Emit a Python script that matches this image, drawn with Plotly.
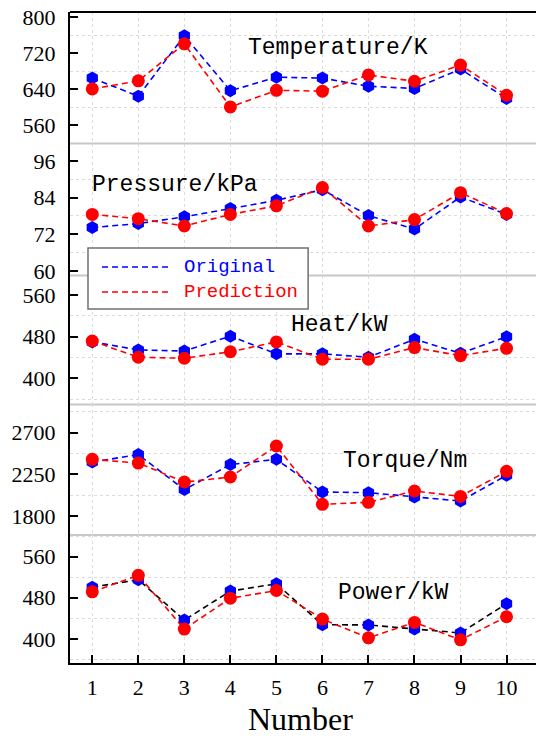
import plotly.graph_objects as go

numbers = list(range(1, 11))

temp_orig = [665, 625, 759, 637, 667, 665, 647, 642, 685, 620]
temp_pred = [641, 659, 741, 601, 638, 636, 672, 658, 694, 627]

pres_orig = [74.2, 75.5, 77.7, 80.4, 83.1, 86.6, 78.1, 73.7, 84.2, 78.5]
pres_pred = [78.5, 77.1, 74.7, 78.5, 81.3, 87.3, 74.7, 76.8, 85.6, 78.8]

heat_orig = [470, 454.5, 452.5, 481, 447, 447, 440.5, 475, 448, 480]
heat_pred = [471.7, 440.5, 438.5, 451, 470, 436.6, 436.6, 459, 443.5, 457.7]

torq_orig = [2383, 2463, 2085, 2355, 2412, 2059, 2052, 2005, 1962, 2239]
torq_pred = [2412, 2372, 2167, 2221, 2556, 1926, 1948, 2070, 2012, 2282]

powr_orig = [500.6, 515, 436.5, 493, 507, 427.5, 427, 419, 411.5, 468.5]
powr_pred = [491.5, 523.5, 419, 479, 494, 438.5, 402, 432, 398, 443]

panel_titles = ["Temperature/K", "Pressure/kPa", "Heat/kW", "Torque/Nm", "Power/kW"]
legend_names = ["Original", "Prediction"]

panels = [
    dict(orig=temp_orig, pred=temp_pred, rng=[520, 811.6], tick0=560, dtick=80, mtick0=520,
         dom=[0.798, 1.0], tpos=(0.575, 0.728), orig_line="#0000ff"),
    dict(orig=pres_orig, pred=pres_pred, rng=[58.5, 101.7], tick0=60, dtick=12, mtick0=66,
         dom=[0.5952, 0.798], tpos=(0.225, 0.686), orig_line="#0000ff"),
    dict(orig=heat_orig, pred=heat_pred, rng=[349.7, 597.5], tick0=400, dtick=80, mtick0=360,
         dom=[0.3971, 0.5952], tpos=(0.579, 0.616), orig_line="#0000ff"),
    dict(orig=torq_orig, pred=torq_pred, rng=[1595, 3004], tick0=1800, dtick=450, mtick0=2025,
         dom=[0.1966, 0.3971], tpos=(0.719, 0.567), orig_line="#0000ff"),
    dict(orig=powr_orig, pred=powr_pred, rng=[353, 602], tick0=400, dtick=80, mtick0=360,
         dom=[0.0, 0.1966], tpos=(0.695, 0.547), orig_line="#000000"),
]

BLUE = "#0000ff"
RED = "#ff0000"
GRID = "#dcdcdc"
SERIF = "Liberation Serif"
MONO = "Liberation Mono"
DASH = "6px,4px"

fig = go.Figure()
layout = dict(
    width=536, height=740,
    margin=dict(l=70, r=0, t=12, b=77, autoexpand=False),
    paper_bgcolor="white", plot_bgcolor="white",
    showlegend=False,
    hovermode=False,
)
annotations = []
shapes = []

for i, p in enumerate(panels):
    k = "" if i == 0 else str(i + 1)
    xa = "x" + k
    ya = "y" + k
    fig.add_trace(go.Scatter(
        x=numbers, y=p["orig"], xaxis=xa, yaxis=ya, mode="lines+markers",
        line=dict(color=p["orig_line"], width=1.6, dash=DASH),
        marker=dict(symbol="hexagon", size=13, color=BLUE),
        name=legend_names[0]))
    fig.add_trace(go.Scatter(
        x=numbers, y=p["pred"], xaxis=xa, yaxis=ya, mode="lines+markers",
        line=dict(color=RED, width=1.6, dash=DASH),
        marker=dict(symbol="circle", size=13, color=RED),
        name=legend_names[1]))
    last = (i == 4)
    xdict = dict(
        domain=[0, 1], anchor=ya, range=[0.516, 10.64], automargin=False,
        tick0=1, dtick=1, tickmode="linear",
        showgrid=True, gridcolor=GRID, griddash="dot", gridwidth=1,
        zeroline=False,
        showticklabels=last,
        ticks="inside" if last else "", ticklen=8, tickwidth=2, tickcolor="black",
        showline=last, linecolor="black", linewidth=2,
        tickfont=dict(family=SERIF, size=22, color="black"),
        ticklabeloverflow="allow",
    )
    if i > 0:
        xdict["matches"] = "x"
    if last:
        xdict["ticklabelstandoff"] = 4
    layout["xaxis" + k] = xdict
    layout["yaxis" + k] = dict(
        domain=p["dom"], anchor=xa, range=p["rng"], automargin=False,
        tickmode="linear", tick0=p["tick0"], dtick=p["dtick"],
        showgrid=False, zeroline=False,
        minor=dict(tick0=p["mtick0"], dtick=p["dtick"], showgrid=True,
                   gridcolor=GRID, griddash="dot", gridwidth=1),
        ticks="inside", ticklen=8, tickwidth=2, tickcolor="black",
        showline=True, linecolor="black", linewidth=2,
        tickfont=dict(family=SERIF, size=22, color="black"),
        ticklabelstandoff=8,
        ticklabeloverflow="allow",
    )
    annotations.append(dict(
        text=panel_titles[i], xref=xa + " domain", yref=ya + " domain",
        x=p["tpos"][0], y=p["tpos"][1], showarrow=False,
        xanchor="center", yanchor="middle",
        font=dict(family=MONO, size=23, color="black")))
    if i > 0:
        shapes.append(dict(type="line", xref="paper", yref="paper",
                           x0=0, x1=1, y0=p["dom"][1], y1=p["dom"][1],
                           line=dict(color="#c8c8c8", width=2), layer="between"))

# x-axis title
annotations.append(dict(text="Number", xref="paper", yref="paper", x=0.495, y=-0.1165,
                        xanchor="center", yanchor="bottom", showarrow=False,
                        font=dict(family=SERIF, size=32, color="black")))

# top border
shapes.append(dict(type="line", xref="paper", yref="paper", x0=0, x1=1, y0=1, y1=1,
                   line=dict(color="black", width=2), layer="above"))

# legend box
shapes.append(dict(type="rect", xref="paper", yref="paper",
                   x0=0.0386, x1=0.511, y0=0.5438, y1=0.6375,
                   fillcolor="white", line=dict(color="#707070", width=1.5), layer="above"))
leg_colors = [BLUE, RED]
leg_y = [0.6083, 0.5699]
for name, col, yy in zip(legend_names, leg_colors, leg_y):
    shapes.append(dict(type="line", xref="paper", yref="paper",
                       x0=0.0687, x1=0.2189, y0=yy, y1=yy,
                       line=dict(color=col, width=1.6, dash=DASH), layer="above"))
    annotations.append(dict(text=name, xref="paper", yref="paper", x=0.2403, y=yy,
                            xanchor="left", yanchor="middle", showarrow=False,
                            font=dict(family=MONO, size=19, color=col)))

layout["annotations"] = annotations
layout["shapes"] = shapes
fig.update_layout(**layout)
fig.write_html("out.html",
               config={"displayModeBar": False, "staticPlot": True},
               post_script="document.body.style.margin='0';document.body.style.overflow='hidden';")
